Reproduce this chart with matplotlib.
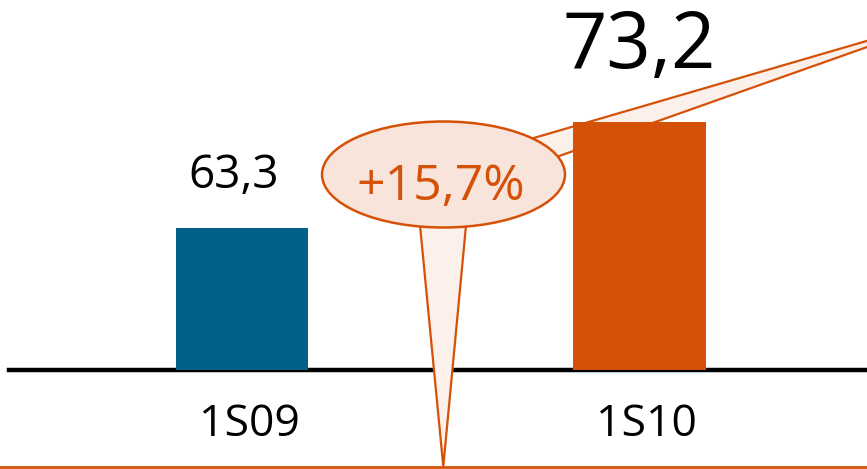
import matplotlib
matplotlib.use("Agg")
import matplotlib.pyplot as plt
from matplotlib.patches import Ellipse, Polygon

# Chart data
periods = ["1S09", "1S10"]
values = [63.3, 73.2]
value_labels = ["63,3", "73,2"]
growth_label = "+15,7%"

BLUE = "#00628A"
ORANGE = "#D55108"
ELLIPSE_FILL = "#F8E4DA"
WEDGE_FILL = "#FBF0EA"

plt.rcParams['font.family'] = ['Open Sans', 'DejaVu Sans']

W, H = 867, 469
fig = plt.figure(figsize=(W / 100, H / 100), dpi=100)
ax = fig.add_axes([0, 0, 1, 1])
ax.set_axis_off()

base = 50
ax.set_xlim(-0.609, 1.572)
ax.set_ylim(40.78, 84.61)

def px(x, y):
    # pixel position -> axes fraction
    return x / W, 1 - y / H

xs = list(range(len(periods)))
ax.bar(xs, [v - base for v in values], bottom=base, width=0.333,
       color=[BLUE, ORANGE], zorder=3)

# baseline
ax.axhline(base, xmin=9 / W, xmax=1, color="black", lw=3.2, zorder=2)

# value labels above bars
label_sizes = [33, 56]
label_offsets = [(-6, 29), (0, 39)]
for x, v, lab, fs, off in zip(xs, values, value_labels, label_sizes, label_offsets):
    ax.annotate(lab, (x, v), xytext=off, textcoords="offset points",
                ha="center", va="baseline", fontsize=fs, color="black")

# category labels under the baseline
for x, p in zip(xs, periods):
    ax.annotate(p, (x, base), xytext=(5, -47), textcoords="offset points",
                ha="center", va="baseline", fontsize=32, color="black")

# callout wedges
top_wedge = Polygon([px(520, 142), px(870, 40), px(870, 46), px(548, 160)],
                    closed=True, transform=ax.transAxes, facecolor=WEDGE_FILL,
                    edgecolor=ORANGE, lw=1.6, zorder=2.5)
ax.add_patch(top_wedge)
bottom_wedge = Polygon([px(419, 215), px(467, 215), px(443.3, 466.5)],
                       closed=True, transform=ax.transAxes, facecolor=WEDGE_FILL,
                       edgecolor=ORANGE, lw=1.6, zorder=4)
ax.add_patch(bottom_wedge)

# growth ellipse
cx, cy = px(443.5, 174.5)
ell = Ellipse((cx, cy), 243 / W, 106 / H, transform=ax.transAxes,
              facecolor=ELLIPSE_FILL, edgecolor=ORANGE, lw=1.8, zorder=5)
ax.add_patch(ell)
tx, ty = px(441, 200)
ax.text(tx, ty, growth_label, transform=ax.transAxes, ha="center", va="baseline",
        fontsize=36, color=ORANGE, zorder=6)

# bottom orange rule
ax.axhline(40.78 + 2.3 / 10.7, color=ORANGE, lw=2, zorder=4)

fig.savefig("out.png", dpi=100)
